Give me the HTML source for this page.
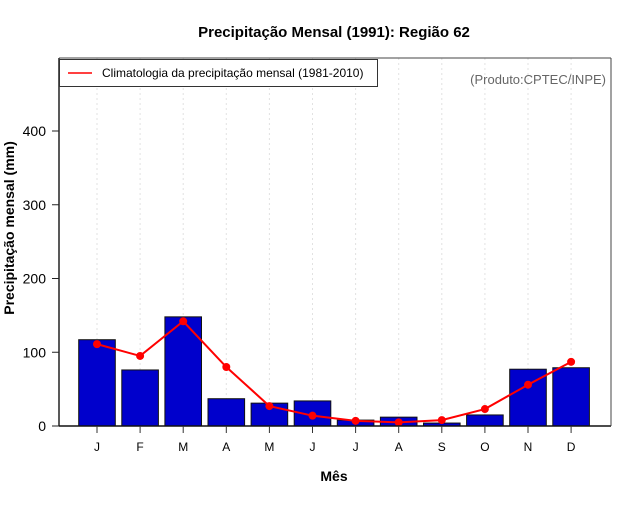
<!DOCTYPE html>
<html><head><meta charset="utf-8"><style>
body{margin:0;background:#fff}
svg text{font-family:"Liberation Sans",sans-serif}
</style></head><body>
<svg id="c" width="640" height="500" xmlns="http://www.w3.org/2000/svg">
<rect width="640" height="500" fill="#fff"/>
<text x="334" y="37" text-anchor="middle" font-size="15" font-weight="bold">Precipitação Mensal (1991): Região 62</text>
<g id="grid"></g>
<g id="bars"></g>
<g id="line"></g>
<line x1="59" y1="58" x2="59" y2="426" stroke="#222" stroke-width="1.5"/>
<line x1="59" y1="426" x2="611" y2="426" stroke="#111" stroke-width="1.5"/>
<line x1="611" y1="58" x2="611" y2="426" stroke="#444" stroke-width="1"/>
<line x1="59" y1="58" x2="611" y2="58" stroke="#444" stroke-width="1"/>
<g id="axes"></g>
<text x="28" y="242" transform="rotate(-90 14 242)" text-anchor="middle" font-size="14" font-weight="bold">Precipitação mensal (mm)</text>
<text x="334" y="481" text-anchor="middle" font-size="14" font-weight="bold">Mês</text>
<g>
<rect x="59.5" y="59.5" width="318" height="27" fill="#fff" stroke="#333"/>
<line x1="68" y1="73" x2="92" y2="73" stroke="red" stroke-width="1.5"/>
<text x="102" y="77" font-size="12">Climatologia da precipitação mensal (1981-2010)</text>
</g>
<text x="606" y="84" text-anchor="end" font-size="13" fill="#666">(Produto:CPTEC/INPE)</text>
</svg>
<script>
const months=["J","F","M","A","M","J","J","A","S","O","N","D"];
const obs=[117,76,148,37,31,34,8,12,4,15,77,79];
const clim=[111,95,142,80,27,14,7,5,8,23,56,87];
const yTicks=[0,100,200,300,400];
const NS="http://www.w3.org/2000/svg";
const xs=i=>97+i*43.1;
const ys=v=>426-v*0.7375;
function mk(t,a,p){const e=document.createElementNS(NS,t);for(const k in a)e.setAttribute(k,a[k]);document.getElementById(p).appendChild(e);return e;}
months.forEach((m,i)=>{
  const g=mk("line",{x1:xs(i),x2:xs(i),y1:58,y2:426,stroke:"#e2e2e2","stroke-dasharray":"2,3"},"grid");
  
  
  const b=mk("rect",{x:xs(i)-18.3,y:ys(obs[i]),width:36.6,height:426-ys(obs[i]),fill:"#0000cc",stroke:"#111","stroke-width":1},"bars");
  
  
  const t=mk("line",{x1:xs(i),x2:xs(i),y1:426,y2:433,stroke:"#333"},"axes");
  
  
  const l=mk("text",{x:xs(i),y:451,"text-anchor":"middle","font-size":12},"axes");
  l.textContent=m;
  
  
});
const pl=mk("polyline",{points:clim.map((v,i)=>xs(i)+","+ys(v)).join(" "),fill:"none",stroke:"red","stroke-width":2},"line");


clim.forEach((v,i)=>{
  const p=mk("circle",{cx:xs(i),cy:ys(v),r:4,fill:"red"},"line");
  
  
});
yTicks.forEach(v=>{
  const t=mk("line",{x1:52,x2:59,y1:ys(v),y2:ys(v),stroke:"#222"},"axes");
  
  
  const l=mk("text",{x:46,y:ys(v)+5,"text-anchor":"end","font-size":14},"axes");
  l.textContent=v;
  
  
});
</script>
</body></html>
